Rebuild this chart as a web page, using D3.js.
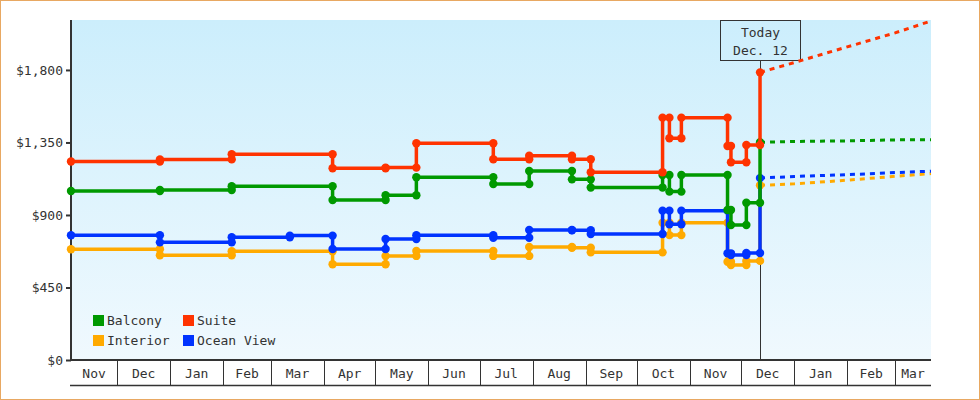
<!DOCTYPE html>
<html><head><meta charset="utf-8">
<script src="https://cdn.jsdelivr.net/npm/d3@7"></script>
<style>
html,body{margin:0;padding:0;background:#fff;}
svg{display:block;}
text{font-family:"DejaVu Sans Mono",monospace;font-size:13px;fill:#333;}
</style></head>
<body><svg id="c" width="980" height="400"></svg>
<script>
// ---- data ----
const changeDates = ["2012-11-04","2012-12-26","2013-02-06","2013-03-12","2013-04-06","2013-05-07","2013-05-25","2013-07-09","2013-07-30","2013-08-24","2013-09-04","2013-10-16","2013-10-20","2013-10-27","2013-11-23","2013-11-25","2013-12-04","2013-12-12"];
const balcony   = [1049,1055,1078,1078, 993,1022,1134,1092,1173,1121,1070,1148,1045,1148, 931, 838, 976,1351];
const suite     = [1232,1245,1277,1277,1190,1194,1345,1246,1268,1246,1165,1504,1376,1504,1328,1227,1334,1785];
const interior  = [ 687, 650, 675, 675, 594, 646, 677, 646, 701, 697, 668, 852, 775, 852, 610, 590, 615,1084];
const oceanView = [ 774, 730, 762, 772, 689, 751, 774, 759, 807, 805, 782, 927, 842, 927, 662, 652, 664,1129];

const projDates = ["2013-12-12","2014-01-01","2014-02-01","2014-03-01","2014-03-22"];
const balconyProj   = [1351,1356,1360,1366,1367];
const suiteProj     = [1785,1846,1943,2030,2104];
const interiorProj  = [1084,1093,1116,1140,1157];
const oceanViewProj = [1129,1139,1150,1163,1172];

const seriesNames = ["Balcony","Suite","Interior","Ocean View"];
const yTicks = [0,450,900,1350,1800];
const todayDate = "2013-12-12";
const todayLabel = ["Today","Dec. 12"];
const domainStart = "2012-11-04", domainEnd = "2014-03-22";

// ---- setup ----
const parse = d3.timeParse("%Y-%m-%d");
const colors = {"Balcony":"#009900","Suite":"#ff3300","Interior":"#ffaa00","Ocean View":"#0033ff"};
const series = [
  {name:"Interior", v:interior, p:interiorProj},
  {name:"Ocean View", v:oceanView, p:oceanViewProj},
  {name:"Balcony", v:balcony, p:balconyProj},
  {name:"Suite", v:suite, p:suiteProj}
];
const L=71, R=931, T=20, B=360;
const svg = d3.select("#c");
const x = d3.scaleTime().domain([parse(domainStart), parse(domainEnd)]).range([L,R]);
const y = d3.scaleLinear().domain([0,2110]).range([B,T]);

// border
svg.append("rect").attr("x",0.5).attr("y",0.5).attr("width",979).attr("height",399)
  .attr("fill","#fff").attr("stroke","#e8a862").attr("stroke-width",1);

// background gradient
const defs = svg.append("defs");
const g = defs.append("linearGradient").attr("id","bg").attr("x1",0).attr("y1",0).attr("x2",0).attr("y2",1);
g.append("stop").attr("offset","0%").attr("stop-color","#cceefc");
g.append("stop").attr("offset","100%").attr("stop-color","#f0f9fe");
svg.append("rect").attr("x",L).attr("y",T).attr("width",R-L).attr("height",B-T).attr("fill","url(#bg)");

// y axis
const yAxis = svg.append("g").attr("transform",`translate(${L},0)`)
  .call(d3.axisLeft(y).tickValues(yTicks).tickSize(5).tickPadding(3)
    .tickFormat(d => "$" + d3.format(",")(d)));
yAxis.select(".domain").remove();
yAxis.selectAll(".tick line").attr("stroke","#333").attr("stroke-width",2);
yAxis.selectAll(".tick text").attr("font-family","DejaVu Sans Mono").attr("font-size",13).attr("fill","#333");
svg.append("line").attr("x1",L).attr("x2",L).attr("y1",T).attr("y2",B).attr("stroke","#333").attr("stroke-width",2);

// x axis month bands
const months = d3.timeMonth.range(d3.timeMonth.floor(x.domain()[0]), x.domain()[1]);
const xa = svg.append("g");
months.forEach(m => {
  const s = Math.max(x(m), L), e = Math.min(x(d3.timeMonth.offset(m,1)), R);
  if (x(m) > L) xa.append("line").attr("x1",Math.round(x(m))+0.5).attr("x2",Math.round(x(m))+0.5)
      .attr("y1",B).attr("y2",385).attr("stroke","#333").attr("stroke-width",1);
  xa.append("text").attr("x",(s+e)/2).attr("y",378).attr("text-anchor","middle").text(d3.timeFormat("%b")(m));
});
xa.append("line").attr("x1",L-1).attr("x2",R).attr("y1",385.5).attr("y2",385.5).attr("stroke","#333").attr("stroke-width",1.5);
svg.append("line").attr("x1",L-1).attr("x2",R).attr("y1",B).attr("y2",B).attr("stroke","#333").attr("stroke-width",2);

// today marker
const tx = Math.round(x(parse(todayDate)))+0.5;
svg.append("line").attr("x1",tx).attr("x2",tx).attr("y1",60).attr("y2",B).attr("stroke","#333").attr("stroke-width",1);
svg.append("rect").attr("x",tx-40).attr("y",20.5).attr("width",80).attr("height",40)
  .attr("fill","none").attr("stroke","#333").attr("stroke-width",1);
todayLabel.forEach((t,i)=> svg.append("text").attr("x",tx).attr("y",37+i*18).attr("text-anchor","middle").text(t));

// series
const dates = changeDates.map(parse);
const pdates = projDates.map(parse);
const line = d3.line().x(d=>x(d[0])).y(d=>y(d[1])).curve(d3.curveStepAfter);
const pline = d3.line().x(d=>x(d[0])).y(d=>y(d[1]));
series.forEach(s => {
  const c = colors[s.name];
  const pts = dates.map((d,i)=>[d,s.v[i]]);
  const ppts = pdates.map((d,i)=>[d,s.p[i]]);
  svg.append("path").attr("d",pline(ppts)).attr("fill","none").attr("stroke",c)
    .attr("stroke-width",3).attr("stroke-dasharray","5,5");
  svg.append("path").attr("d",line(pts)).attr("fill","none").attr("stroke",c).attr("stroke-width",3.5);
  const marks = [];
  pts.forEach((p,i)=>{
    if (i===0) marks.push(p);
    else if (p[1]!==pts[i-1][1]) { marks.push([p[0],pts[i-1][1]]); marks.push(p); }
  });
  svg.append("g").selectAll("circle").data(marks).join("circle")
    .attr("cx",d=>x(d[0])).attr("cy",d=>y(d[1])).attr("r",4.2).attr("fill",c);
});

// legend
const legendOrder = seriesNames;
legendOrder.forEach((n,i)=>{
  const col = i%2, row = Math.floor(i/2);
  const lx = 93 + col*90, ly = 315 + row*20;
  svg.append("rect").attr("x",lx).attr("y",ly).attr("width",11).attr("height",11).attr("fill",colors[n]);
  svg.append("text").attr("x",lx+14).attr("y",ly+10).text(n);
});
</script></body></html>
